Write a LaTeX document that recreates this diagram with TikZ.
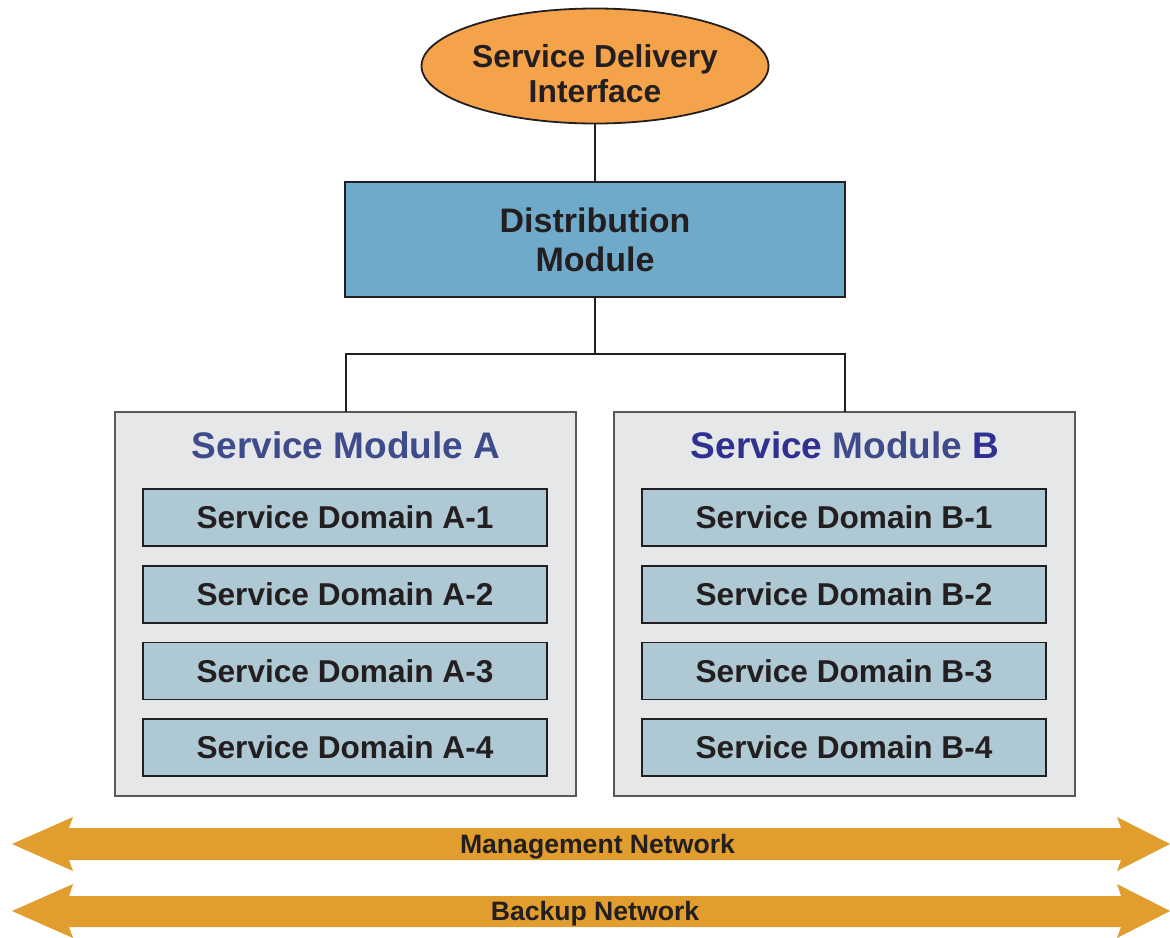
\documentclass[tikz,border=0pt]{standalone}
\usepackage{fontspec}
\setmainfont{Liberation Sans}
\usetikzlibrary{shapes.geometric}

\definecolor{inkdark}{HTML}{231F20}
\definecolor{sdiorange}{HTML}{F4A34B}
\definecolor{distblue}{HTML}{6FAACB}
\definecolor{modgray}{HTML}{E6E7E8}
\definecolor{modedge}{HTML}{58595B}
\definecolor{domblue}{HTML}{AEC8D4}
\definecolor{titleblue}{HTML}{3F4C8B}
\definecolor{deepblue}{HTML}{2E3192}
\definecolor{netorange}{HTML}{E19D2D}

\begin{document}
\begin{tikzpicture}[x = 0.5pt, y = -0.5pt,
        every node/.style = {inner sep = 0pt, outer sep = 0pt, text = inkdark},
        sdibox/.style = {ellipse, draw = inkdark, line width = 0.9pt, fill = sdiorange, minimum width = 173.5pt, minimum height = 57.5pt},
        sditext/.style = {align = center, font = \bfseries\fontsize{15.9}{17.5}\selectfont},
        distbox/.style = {rectangle, draw = inkdark, line width = 0.9pt, fill = distblue, minimum width = 250pt, minimum height = 57.5pt, align = center, font = \bfseries\fontsize{17}{19.5}\selectfont},
        modbox/.style = {rectangle, draw = modedge, line width = 0.7pt, fill = modgray, minimum width = 230.5pt, minimum height = 192pt},
        modtitle/.style = {text = titleblue, font = \bfseries\fontsize{18.5}{22}\selectfont},
        dombox/.style = {rectangle, draw = inkdark, line width = 0.9pt, fill = domblue, minimum width = 202pt, minimum height = 28.5pt, font = \bfseries\fontsize{15.8}{19}\selectfont},
        netarrow/.style = {fill = netorange},
        netlabel/.style = {text depth = 0pt, font = \bfseries\fontsize{13.3}{16}\selectfont},
        link/.style = {draw = inkdark, line width = 1pt}]
            \useasboundingbox (0, 0) rectangle (1170, 937);
            %\draw[lightgray] (0, 0) grid (1170, 937);

            % top of the tree
            \node[sdibox] (sdi) at (595, 66) {};
            \node[sditext] (sditxt) at (595, 73.5) {Service Delivery\\Interface};
            \node[distbox] (dist) at (595, 239.5) {Distribution\\Module};

            % service modules
            \node[modbox] (moda) at (345.5, 604) {};
            \node[modbox] (modb) at (844.5, 604) {};
            \node[modtitle] (modatitle) at (346, 445.5) {Service Module A};
            \node[modtitle] (modbtitle) at (845, 445.5) {{\color{deepblue}Service} Module {\color{deepblue}B}};

            \node[dombox] (doma1) at (345, 517.5) {Service Domain A-1};
            \node[dombox] (doma2) at (345, 594.5) {Service Domain A-2};
            \node[dombox] (doma3) at (345, 671) {Service Domain A-3};
            \node[dombox] (doma4) at (345, 747.5) {Service Domain A-4};

            \node[dombox] (domb1) at (844, 517.5) {Service Domain B-1};
            \node[dombox] (domb2) at (844, 594.5) {Service Domain B-2};
            \node[dombox] (domb3) at (844, 671) {Service Domain B-3};
            \node[dombox] (domb4) at (844, 747.5) {Service Domain B-4};

            % connectors
            \coordinate (split) at (595, 354);
            \draw[link] (sdi.south) -- (dist.north);
            \draw[link] (dist.south) -- (split);
            \draw[link] (moda.north) |- (split) -| (modb.north);

            % networks
            \fill[netarrow] (12, 844) -- (73, 817) -- (69, 828) -- (1121, 828) -- (1117, 817) -- (1170, 844)
                -- (1117, 871) -- (1121, 860) -- (69, 860) -- (73, 871) -- cycle;
            \fill[netarrow] (12, 911) -- (73, 884) -- (69, 896) -- (1121, 896) -- (1117, 884) -- (1170, 911)
                -- (1117, 938) -- (1121, 927) -- (69, 927) -- (73, 938) -- cycle;
            \node[netlabel] (mgmt) at (597.5, 844) {Management Network};
            \node[netlabel] (backup) at (595, 911) {Backup Network};
        \end{tikzpicture}
\end{document}
